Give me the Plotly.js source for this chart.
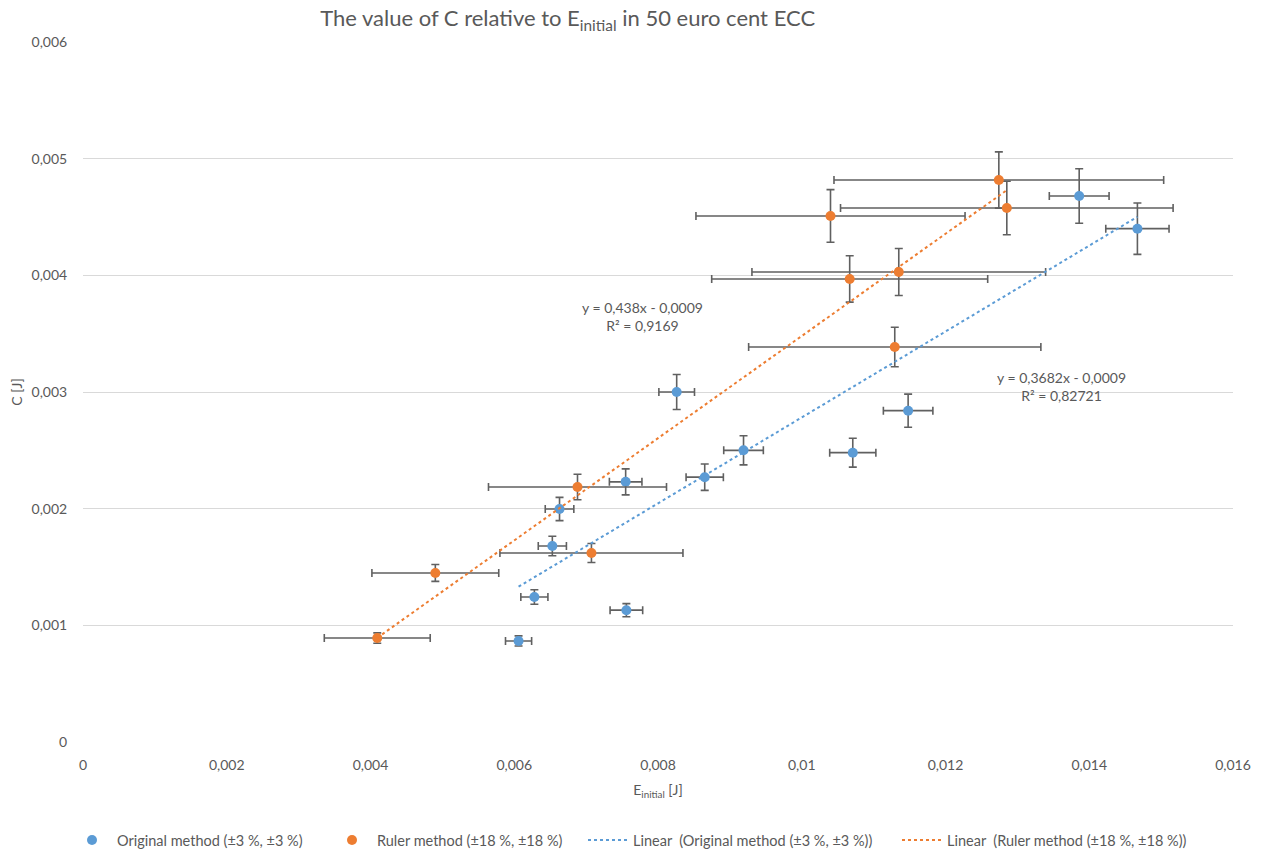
<!DOCTYPE html>
<html>
<head>
<meta charset="utf-8">
<script src="https://cdn.plot.ly/plotly-3.0.1.min.js"></script>
<style>html,body{margin:0;padding:0;background:#fff;}#chart{width:1267px;height:853px;}</style>
</head>
<body>
<div id="chart"></div>
<script>
// Original method (blue)
const origE = [0.00606, 0.00628, 0.00653, 0.00663, 0.00756, 0.00755, 0.00826, 0.00865, 0.00919, 0.01071, 0.01148, 0.01386, 0.01467];
const origC = [0.000866, 0.001243, 0.00168, 0.001997, 0.00113, 0.00223, 0.00300, 0.00227, 0.00250, 0.00248, 0.00284, 0.00468, 0.00440];
// Ruler method (orange)
const rulerE = [0.004094, 0.004902, 0.00688, 0.007074, 0.0104, 0.010667, 0.01135, 0.011294, 0.012742, 0.012853];
const rulerC = [0.000891, 0.001449, 0.002186, 0.00162, 0.004509, 0.003969, 0.004029, 0.003386, 0.004817, 0.004577];
// error percentages [x, y]
const origErrPct = [3, 5];
const rulerErrPct = [18, 5];
// trendline coefficients (slope, intercept) as shown in the chart
const origFit = [0.3682, -0.0009];
const rulerFit = [0.438, -0.0009];
const seriesNames = ["Original method (±3 %, ±3 %)", "Ruler method (±18 %, ±18 %)",
  "Linear  (Original method (±3 %, ±3 %))", "Linear  (Ruler method (±18 %, ±18 %))"];
const xTickVals = [0, 0.002, 0.004, 0.006, 0.008, 0.01, 0.012, 0.014, 0.016];
const xTickText = ["0", "0,002", "0,004", "0,006", "0,008", "0,01", "0,012", "0,014", "0,016"];
const yTickVals = [0, 0.001, 0.002, 0.003, 0.004, 0.005, 0.006];
const yTickText = ["0", "0,001", "0,002", "0,003", "0,004", "0,005", "0,006"];
const eqOrig = "y = 0,3682x - 0,0009<br>R² = 0,82721";
const eqRuler = "y = 0,438x - 0,0009<br>R² = 0,9169";

const BLUE = "#5B9BD5", ORANGE = "#ED7D31", GRAY = "#595959", ERR = "#606060";
const FONT = "Lato, 'Open Sans', sans-serif";

function fitLine(xs, fit) {
  const x0 = Math.min(...xs), x1 = Math.max(...xs);
  return {x: [x0, x1], y: [fit[0]*x0 + fit[1], fit[0]*x1 + fit[1]]};
}
const lo = fitLine(origE, origFit), lr = fitLine(rulerE, rulerFit);

const errStyle = {color: ERR, thickness: 1.6, width: 4};
const traces = [
  {type: "scatter", mode: "markers", name: seriesNames[0], x: origE, y: origC, legend: "legend",
   marker: {color: BLUE, size: 10},
   error_x: Object.assign({type: "percent", value: origErrPct[0], visible: true}, errStyle),
   error_y: Object.assign({type: "percent", value: origErrPct[1], visible: true}, errStyle)},
  {type: "scatter", mode: "markers", name: seriesNames[1], x: rulerE, y: rulerC, legend: "legend2",
   marker: {color: ORANGE, size: 10},
   error_x: Object.assign({type: "percent", value: rulerErrPct[0], visible: true}, errStyle),
   error_y: Object.assign({type: "percent", value: rulerErrPct[1], visible: true}, errStyle)},
  {type: "scatter", mode: "lines", name: seriesNames[2], x: lo.x, y: lo.y, legend: "legend3",
   line: {color: BLUE, width: 2, dash: "dot"}},
  {type: "scatter", mode: "lines", name: seriesNames[3], x: lr.x, y: lr.y, legend: "legend4",
   line: {color: ORANGE, width: 2, dash: "dot"}}
];

function leg(px) {
  return {orientation: "h", xref: "container", yref: "container", x: px / 1267, y: 0.0152,
          xanchor: "left", yanchor: "middle", font: {size: 14.5, color: GRAY},
          itemwidth: 40, bgcolor: "rgba(0,0,0,0)", borderwidth: 0};
}

const layout = {
  width: 1267, height: 853,
  margin: {l: 83, r: 34, t: 42, b: 111},
  paper_bgcolor: "#fff", plot_bgcolor: "#fff",
  separators: ", ",
  font: {family: FONT, size: 13, color: GRAY},
  title: {text: "The value of C relative to E<sub>initial</sub> in 50 euro cent ECC",
          font: {family: FONT, size: 22, color: GRAY},
          xref: "container", x: 0.448, xanchor: "center", yref: "container", y: 0.978, yanchor: "middle"},
  xaxis: {range: [0, 0.016], tickvals: xTickVals, ticktext: xTickText, showgrid: false,
          zeroline: false, showline: false, ticks: "outside", ticklen: 10, tickcolor: "rgba(0,0,0,0)",
          tickfont: {size: 14, color: GRAY},
          title: {text: "E<sub>initial</sub> [J]", font: {size: 14, color: GRAY}, standoff: 13}},
  yaxis: {range: [0, 0.006], tickvals: yTickVals, ticktext: yTickText, showgrid: true,
          gridcolor: "#d9d9d9", gridwidth: 1, zeroline: false, showline: false,
          ticks: "outside", ticklen: 12, tickcolor: "rgba(0,0,0,0)",
          tickfont: {size: 14, color: GRAY},
          title: {text: "C [J]", font: {size: 14, color: GRAY}, standoff: 5}},
  showlegend: true,
  legend: leg(67), legend2: leg(327), legend3: leg(583), legend4: leg(897),
  annotations: [
    {x: 0.007785, y: 0.003651, xref: "x", yref: "y", text: eqRuler, showarrow: false,
     font: {size: 14, color: GRAY}, align: "center"},
    {x: 0.01362, y: 0.003043, xref: "x", yref: "y", text: eqOrig, showarrow: false,
     font: {size: 14, color: GRAY}, align: "center"}
  ]
};
Plotly.newPlot("chart", traces, layout, {displayModeBar: false, responsive: false});
</script>
</body>
</html>
